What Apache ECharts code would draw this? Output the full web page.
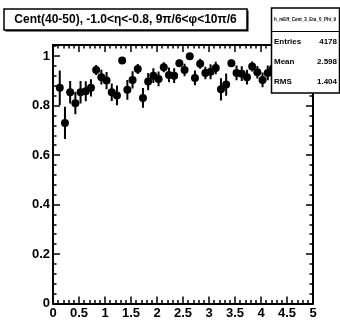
<!DOCTYPE html>
<html lang="en">

<head>
    <meta charset="UTF-8">
    <title>mEff Cent 3 Eta 0 Phi 9</title>
    <style>
        html, body {
            margin: 0;
            padding: 0;
            background: #fff;
        }

        #demo {
            width: 340px;
            height: 323px;
        }
    </style>
</head>

<body>
    <div id="demo"></div>
</body>
<script src="https://cdn.jsdelivr.net/npm/echarts@6/dist/echarts.min.js"></script>
<script>
    // bin centres
    var xs = [0.13, 0.23, 0.33, 0.43, 0.53, 0.63, 0.73, 0.83, 0.93, 1.03,
        1.13, 1.23, 1.33, 1.43, 1.53, 1.63, 1.73, 1.83, 1.93, 2.03,
        2.13, 2.23, 2.33, 2.43, 2.53, 2.63, 2.73, 2.83, 2.93, 3.03,
        3.13, 3.23, 3.33, 3.43, 3.53, 3.63, 3.73, 3.83, 3.93, 4.03,
        4.13, 4.23, 4.33, 4.43, 4.53, 4.63, 4.73, 4.83, 4.93];
    var values = [0.872, 0.730, 0.854, 0.810, 0.854, 0.858, 0.872, 0.944, 0.915, 0.901,
        0.854, 0.841, 0.982, 0.864, 0.904, 0.948, 0.831, 0.897, 0.921, 0.908,
        0.955, 0.924, 0.921, 0.971, 0.944, 1.000, 0.912, 0.969, 0.932, 0.937,
        0.952, 0.866, 0.885, 0.971, 0.932, 0.929, 0.915, 0.958, 0.935, 0.904,
        0.932, 0.950, 0.940, 0.960, 0.950, 0.970, 0.940, 0.960, 0.950];
    var errors = [0.070, 0.065, 0.045, 0.045, 0.045, 0.040, 0.035, 0.020, 0.030, 0.035,
        0.035, 0.040, 0.010, 0.040, 0.035, 0.020, 0.040, 0.035, 0.030, 0.030,
        0.020, 0.030, 0.030, 0.015, 0.025, 0.010, 0.030, 0.020, 0.025, 0.030,
        0.025, 0.045, 0.045, 0.015, 0.030, 0.030, 0.030, 0.020, 0.025, 0.030,
        0.030, 0.020, 0.020, 0.020, 0.020, 0.020, 0.020, 0.020, 0.020];
    var xTicks = [0, 5, 0.5];
    var yTicks = [0, 1.045, 0.2];
    var titleText = 'Cent(40-50), -1.0<η<-0.8, 9π/6<φ<10π/6';
    var statsName = 'h_mEff_Cent_3_Eta_0_Phi_9';
    var statsLabels = ['Entries', 'Mean', 'RMS'];
    var statsValues = ['4178', '2.598', '1.404'];

    var points = xs.map((x, i) => [x, values[i], errors[i]]);
    var font = 'Liberation Sans, Arial, sans-serif';

    function frameAxis(pos, show, range) {
        return {
            type: 'value',
            position: pos,
            min: range[0],
            max: range[1],
            interval: range[2],
            minorTick: { show: true, splitNumber: 5, length: 3.5, lineStyle: { color: '#000', width: 1.5 } },
            axisLine: { show: true, onZero: false, lineStyle: { color: '#000', width: 2 } },
            axisTick: { show: true, inside: true, length: 7, lineStyle: { color: '#000', width: 1.5 } },
            axisLabel: {
                show: show,
                color: '#000',
                fontFamily: font,
                fontWeight: 'bold',
                fontSize: 13,
                margin: 3,
                showMaxLabel: pos == 'bottom' ? true : false,
                formatter: v => String(+v.toFixed(2))
            },
            splitLine: { show: false }
        }
    }

    var demo = echarts.init(document.getElementById('demo'), null, { renderer: 'canvas' });
    // stats box
    var stats = [
        { type: 'rect', shape: { x: 271.5, y: 8, width: 68, height: 85 }, style: { fill: '#fff', stroke: '#000', lineWidth: 1.5 }, z: 101 },
        { type: 'line', shape: { x1: 271.5, y1: 31.5, x2: 340, y2: 31.5 }, style: { stroke: '#000', lineWidth: 1 }, z: 102 },
        { type: 'text', x: 305, y: 20, style: { text: statsName, font: 'bold 4.5px ' + font, fill: '#000', align: 'center', verticalAlign: 'middle' }, z: 102 }
    ];
    statsLabels.forEach((item, index) => {
        stats.push({ type: 'text', x: 274, y: 42 + index * 20, style: { text: item, font: 'bold 8px ' + font, fill: '#000', verticalAlign: 'middle' }, z: 102 });
        stats.push({ type: 'text', x: 337, y: 42 + index * 20, style: { text: statsValues[index], font: 'bold 8px ' + font, fill: '#000', align: 'right', verticalAlign: 'middle' }, z: 102 });
    });

    var option = {
        animation: false,
        backgroundColor: '#fff',
        grid: { left: 53, right: 27, top: 45, bottom: 19.5 },
        xAxis: [frameAxis('bottom', true, xTicks), frameAxis('top', false, xTicks)],
        yAxis: [frameAxis('left', true, yTicks), frameAxis('right', false, yTicks)],
        graphic: [
            { type: 'rect', shape: { x: 5.5, y: 10.5, width: 243, height: 21 }, style: { fill: '#000' }, z: 100 },
            { type: 'rect', shape: { x: 4, y: 9, width: 243, height: 21 }, style: { fill: '#fff', stroke: '#000', lineWidth: 1.5 }, z: 101 },
            { type: 'text', x: 125.5, y: 20, style: { text: titleText, font: 'bold 12px ' + font, fill: '#000', align: 'center', verticalAlign: 'middle' }, z: 102 }
        ].concat(stats),
        series: [
            {
                type: 'custom',
                data: points,
                clip: true,
                renderItem: function (params, api) {
                    var top = api.coord([api.value(0), api.value(1) + api.value(2)]);
                    var bot = api.coord([api.value(0), api.value(1) - api.value(2)]);
                    return {
                        type: 'line',
                        shape: { x1: top[0], y1: top[1], x2: bot[0], y2: bot[1] },
                        style: { stroke: '#000', lineWidth: 2 }
                    }
                }
            },
            {
                type: 'scatter',
                data: points,
                symbol: 'circle',
                symbolSize: 8,
                itemStyle: { color: '#000', opacity: 1 }
            }
        ]
    };
    demo.setOption(option);
</script>

</html>
